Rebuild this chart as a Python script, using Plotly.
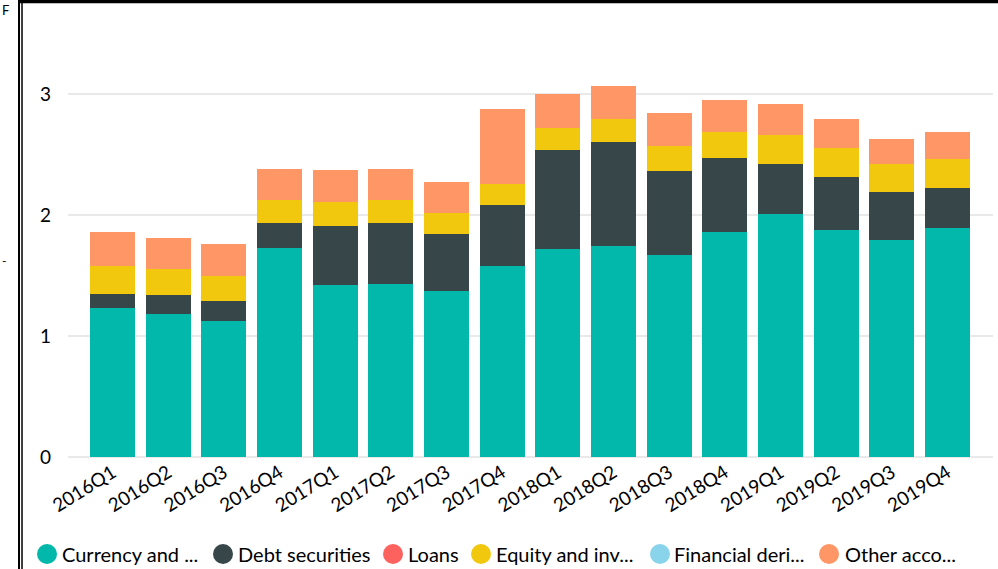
import plotly.graph_objects as go

# Quarterly breakdown by instrument (stacked)
quarters = ["2016Q1", "2016Q2", "2016Q3", "2016Q4",
            "2017Q1", "2017Q2", "2017Q3", "2017Q4",
            "2018Q1", "2018Q2", "2018Q3", "2018Q4",
            "2019Q1", "2019Q2", "2019Q3", "2019Q4"]

currency = [1.23, 1.18, 1.12, 1.73, 1.42, 1.43, 1.37, 1.58,
            1.72, 1.74, 1.67, 1.86, 2.01, 1.88, 1.79, 1.89]
debt = [0.12, 0.16, 0.17, 0.20, 0.49, 0.50, 0.47, 0.50,
        0.82, 0.86, 0.69, 0.61, 0.41, 0.43, 0.40, 0.33]
loans = [None] * 16
equity = [0.23, 0.21, 0.21, 0.19, 0.20, 0.19, 0.18, 0.18,
          0.18, 0.19, 0.21, 0.22, 0.24, 0.24, 0.23, 0.24]
derivatives = [None] * 16
other = [0.28, 0.26, 0.26, 0.26, 0.26, 0.26, 0.25, 0.62,
         0.28, 0.28, 0.27, 0.26, 0.26, 0.24, 0.21, 0.23]

series_names = ["Currency and ...", "Debt securities", "Loans",
                "Equity and inv...", "Financial deri...", "Other acco..."]
series_values = [currency, debt, loans, equity, derivatives, other]
series_colors = ["#01B8AA", "#374649", "#FD625E", "#F2C80F", "#8AD4EB", "#FE9666"]

y_ticks = [0, 1, 2, 3]

W, H = 998, 569
L, R, T, B = 68, 5, 20, 112
PW, PH = W - L - R, H - T - B

FONT = "Lato"


def px_x(p):
    return (p - L) / PW


def px_y(p):
    return (H - B - p) / PH


fig = go.Figure()
for name, vals, col in zip(series_names, series_values, series_colors):
    fig.add_trace(go.Bar(x=quarters, y=vals, name=name, marker_color=col,
                         marker_line_width=0, showlegend=False))

# Legend row: circle markers with labels
legend_circle_cx = [47, 223, 393, 481, 660, 829]
legend_text_x = [60, 236, 406, 494, 672, 843]
legend_cy = 554
rad = 10
shapes = []
annotations = []
for name, col, cx, tx in zip(series_names, series_colors, legend_circle_cx, legend_text_x):
    shapes.append(dict(type="circle", xref="paper", yref="paper",
                       x0=px_x(cx - rad), x1=px_x(cx + rad),
                       y0=px_y(legend_cy + rad), y1=px_y(legend_cy - rad),
                       fillcolor=col, line_width=0))
    annotations.append(dict(text=name, xref="paper", yref="paper",
                            x=px_x(tx), y=px_y(legend_cy), xanchor="left",
                            yanchor="middle", showarrow=False,
                            font=dict(family=FONT, size=20, color="#000000")))

# Surrounding frame lines
shapes += [
    dict(type="line", xref="paper", yref="paper", x0=px_x(19), x1=px_x(19),
         y0=px_y(0), y1=px_y(H), line=dict(color="#000000", width=2)),
    dict(type="line", xref="paper", yref="paper", x0=px_x(22), x1=px_x(22),
         y0=px_y(0), y1=px_y(H), line=dict(color="#000000", width=1.5)),
    dict(type="line", xref="paper", yref="paper", x0=px_x(18), x1=px_x(W),
         y0=px_y(1.5), y1=px_y(1.5), line=dict(color="#000000", width=3.5)),
]
annotations += [
    dict(text="F", xref="paper", yref="paper", x=px_x(0), y=px_y(10),
         xanchor="left", yanchor="middle", showarrow=False,
         font=dict(family=FONT, size=13, color="#000000")),
    dict(text="-", xref="paper", yref="paper", x=px_x(0), y=px_y(260),
         xanchor="left", yanchor="middle", showarrow=False,
         font=dict(family=FONT, size=12, color="#000000")),
]

fig.update_layout(
    width=W, height=H,
    margin=dict(l=L, r=R, t=T, b=B, autoexpand=False),
    barmode="stack", bargap=0.19,
    plot_bgcolor="#ffffff", paper_bgcolor="#ffffff",
    showlegend=False,
    font=dict(family=FONT, size=19, color="#000000"),
    shapes=shapes, annotations=annotations,
)
fig.update_xaxes(range=[-0.80, 15.82], tickangle=-32, showgrid=False,
                 showline=False, ticks="", zeroline=False,
                 tickfont=dict(family=FONT, size=19, color="#000000"))
fig.update_yaxes(range=[0, PH / 121.0], tickvals=y_ticks, showgrid=True,
                 gridcolor="#e9e9e9", gridwidth=2, zeroline=True,
                 zerolinecolor="#e9e9e9", zerolinewidth=2, showline=False,
                 ticks="", ticklabelstandoff=16,
                 tickfont=dict(family=FONT, size=19, color="#000000"))

fig.write_html("out.html")
